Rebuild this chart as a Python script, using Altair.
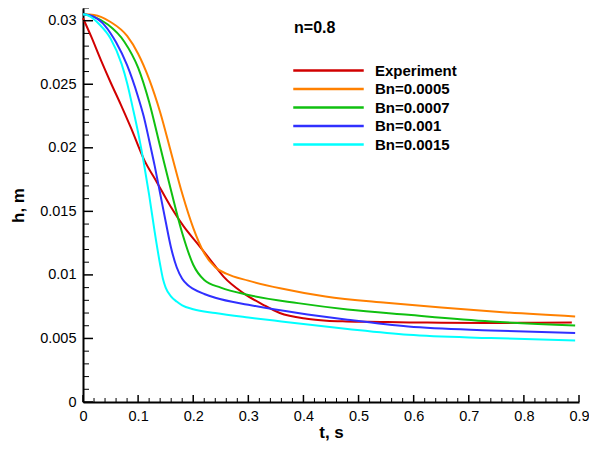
import altair as alt
import pandas as pd

# ---------------- data ----------------
series_names = ["Experiment", "Bn=0.0005", "Bn=0.0007", "Bn=0.001", "Bn=0.0015"]
series_colors = ["#d10000", "#ff8000", "#10c010", "#3030ff", "#00ffff"]

exp_t = [0, 0.0144, 0.0325, 0.0506, 0.0686, 0.0867, 0.111, 0.135, 0.159, 0.183, 0.207,
         0.231, 0.255, 0.291, 0.327, 0.357, 0.406, 0.442, 0.478, 0.54, 0.592, 0.65, 0.743, 0.82, 0.887]
exp_h = [0.0302, 0.0288, 0.0269, 0.0251, 0.0234, 0.0216, 0.01905, 0.01722, 0.01538, 0.0138, 0.0125,
         0.01119, 0.00987, 0.00857, 0.00765, 0.0070, 0.00655, 0.0064, 0.00634, 0.0063, 0.00626, 0.00624, 0.00621, 0.00624, 0.00626]

bn05_t = [0, 0.02, 0.05, 0.08, 0.10, 0.12, 0.14, 0.16, 0.18, 0.20, 0.22, 0.24, 0.26, 0.30,
          0.36, 0.44, 0.55, 0.65, 0.75, 0.893]
bn05_h = [0.0305, 0.03045, 0.0299, 0.0288, 0.0274, 0.0254, 0.0228, 0.0196, 0.0164, 0.0137, 0.0117,
          0.0106, 0.0101, 0.00955, 0.00893, 0.0083, 0.0078, 0.00743, 0.0071, 0.00673]

bn07_t = [0, 0.02, 0.045, 0.075, 0.10, 0.12, 0.14, 0.16, 0.18, 0.20, 0.22, 0.25, 0.30,
          0.39, 0.48, 0.59, 0.74, 0.893]
bn07_h = [0.0305, 0.0303, 0.0297, 0.02835, 0.0263, 0.0236, 0.0201, 0.0166, 0.0133, 0.0108, 0.0096,
          0.0090, 0.00842, 0.00778, 0.00728, 0.00686, 0.00634, 0.00602]

bn10_t = [0, 0.02, 0.04, 0.06, 0.08, 0.10, 0.11, 0.12, 0.13, 0.14, 0.15, 0.16, 0.17, 0.18, 0.19,
          0.20, 0.22, 0.24, 0.30, 0.39, 0.48, 0.59, 0.74, 0.893]
bn10_h = [0.0305, 0.0303, 0.0296, 0.0283, 0.0265, 0.0240, 0.0225, 0.0206, 0.0186, 0.0164, 0.0142,
          0.0121, 0.0106, 0.0097, 0.0092, 0.0089, 0.0085, 0.0082, 0.00765, 0.0070, 0.00648, 0.00594, 0.00563, 0.00542]

bn15_t = [0, 0.01, 0.03, 0.05, 0.07, 0.08, 0.09, 0.10, 0.11, 0.12, 0.13, 0.14, 0.145, 0.15, 0.16,
          0.17, 0.18, 0.20, 0.24, 0.30, 0.36, 0.48, 0.59, 0.74, 0.893]
bn15_h = [0.0305, 0.0304, 0.0297, 0.0286, 0.0266, 0.0251, 0.0232, 0.0212, 0.0189, 0.0163, 0.0134,
          0.0108, 0.0097, 0.0090, 0.0083, 0.0079, 0.0076, 0.0073, 0.0070, 0.00665, 0.00634, 0.00575,
          0.00529, 0.00503, 0.00484]

x_major = [0, 0.1, 0.2, 0.3, 0.4, 0.5, 0.6, 0.7, 0.8, 0.9]
y_major = [0, 0.005, 0.01, 0.015, 0.02, 0.025, 0.03]
x_minor = [round(0.02 * i, 3) for i in range(46) if i % 5 != 0]
y_minor = [round(0.001 * i, 4) for i in range(32) if i % 5 != 0]

note_text = ["n=0.8"]
note_t = [0.383]
note_h = [0.0290]

# ---------------- build table ----------------
rows = []
for name, ts, hs in zip(series_names,
                        [exp_t, bn05_t, bn07_t, bn10_t, bn15_t],
                        [exp_h, bn05_h, bn07_h, bn10_h, bn15_h]):
    for t, h in zip(ts, hs):
        rows.append({"t": t, "h": h, "series": name})
df = pd.DataFrame(rows)

W, H = 496, 394
FONT = "Liberation Sans"

xscale = alt.Scale(domain=[0, 0.9], nice=False, zero=False)
yscale = alt.Scale(domain=[0, 0.031], nice=False, zero=False)

xaxis = alt.Axis(title="t, s", values=x_major, format="~g", ticks=False, tickSize=0,
                 grid=False, domainColor="black", domainWidth=2,
                 labelFont=FONT, labelFontSize=14.5, labelColor="black", labelPadding=7,
                 labelFlush=False, labelOverlap=False,
                 titleFont=FONT, titleFontSize=17, titleFontWeight="bold", titleColor="black",
                 titleBaseline="alphabetic", titleY=35)
yaxis = alt.Axis(title="h, m", values=y_major, format="~g", ticks=False, tickSize=0,
                 grid=False, domainColor="black", domainWidth=2,
                 labelFont=FONT, labelFontSize=14.5, labelColor="black", labelPadding=7,
                 labelFlush=False, labelOverlap=False,
                 titleFont=FONT, titleFontSize=17, titleFontWeight="bold", titleColor="black",
                 titleX=-56)

lines = alt.Chart(df).mark_line(strokeWidth=2, interpolate="monotone").encode(
    x=alt.X("t:Q", scale=xscale, axis=xaxis),
    y=alt.Y("h:Q", scale=yscale, axis=yaxis),
    color=alt.Color("series:N",
                    scale=alt.Scale(domain=series_names, range=series_colors),
                    sort=series_names,
                    legend=alt.Legend(orient="none", legendX=238, legendY=55, padding=0,
                                      title=None,
                                      symbolType="M-6,0H6", symbolSize=138, symbolStrokeWidth=2.5,
                                      labelFont=FONT, labelFontSize=15, labelFontWeight="bold",
                                      labelColor="black", labelOffset=39, rowPadding=2.5)),
    order="t:Q",
)

note = alt.Chart(pd.DataFrame({"t": note_t, "h": note_h, "label": note_text})).mark_text(
    align="left", baseline="alphabetic", font=FONT, fontSize=16, fontWeight="bold", color="black"
).encode(x=alt.X("t:Q", scale=xscale, axis=xaxis), y=alt.Y("h:Q", scale=yscale, axis=yaxis),
         text="label:N")

ymaj = alt.Chart(pd.DataFrame({"h": y_major})).mark_rule(color="black", strokeWidth=1.5).encode(
    y=alt.Y("h:Q", scale=yscale, axis=yaxis), x=alt.value(0), x2=alt.value(10))
ymin = alt.Chart(pd.DataFrame({"h": y_minor})).mark_rule(color="black", strokeWidth=1).encode(
    y=alt.Y("h:Q", scale=yscale, axis=yaxis), x=alt.value(0), x2=alt.value(6))
xmaj = alt.Chart(pd.DataFrame({"t": x_major})).mark_rule(color="black", strokeWidth=1.5).encode(
    x=alt.X("t:Q", scale=xscale, axis=xaxis), y=alt.value(H), y2=alt.value(H - 7))
xmin = alt.Chart(pd.DataFrame({"t": x_minor})).mark_rule(color="black", strokeWidth=1).encode(
    x=alt.X("t:Q", scale=xscale, axis=xaxis), y=alt.value(H), y2=alt.value(H - 4))

chart = alt.layer(lines, note, ymaj, ymin, xmaj, xmin).properties(
    width=W, height=H,
    autosize=alt.AutoSizeParams(type="none"),
    padding={"left": 75, "top": 0, "right": 10, "bottom": 39},
    background="white",
).configure_view(stroke=None)

chart.save("out.html", embed_options={"renderer": "svg", "actions": False})
